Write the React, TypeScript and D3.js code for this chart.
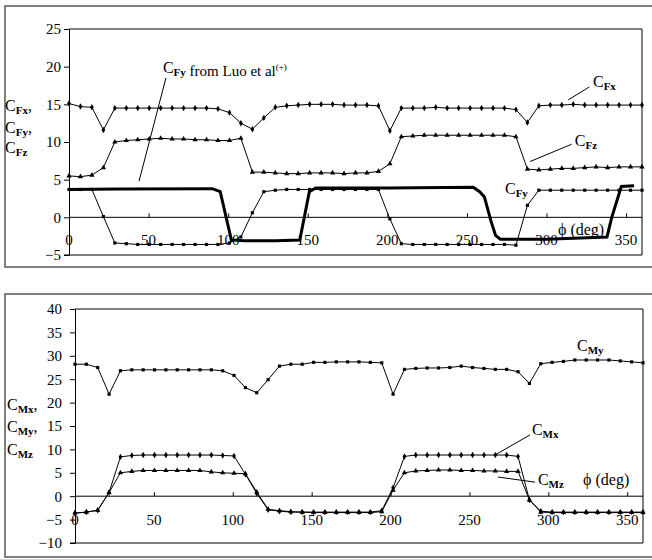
import React, { useEffect, useRef } from "react";
import * as d3 from "d3";

// measured angles (deg), one point every 7.2 deg
const phi = [
  0, 7.2, 14.4, 21.6, 28.8, 36, 43.2, 50.4, 57.6, 64.8, 72, 79.2, 86.4, 93.6, 100.8, 108, 115.2,
  122.4, 129.6, 136.8, 144, 151.2, 158.4, 165.6, 172.8, 180, 187.2, 194.4, 201.6, 208.8, 216,
  223.2, 230.4, 237.6, 244.8, 252, 259.2, 266.4, 273.6, 280.8, 288, 295.2, 302.4, 309.6, 316.8,
  324, 331.2, 338.4, 345.6, 352.8, 360,
];

// force coefficients
const cFx = [
  15.1, 14.7, 14.6, 11.6, 14.5, 14.5, 14.5, 14.5, 14.5, 14.5, 14.5, 14.5, 14.5, 14.4, 13.9, 12.5,
  11.7, 13.2, 14.6, 14.8, 14.9, 15.0, 15.0, 15.0, 14.9, 14.9, 14.9, 14.8, 11.5, 14.5, 14.5, 14.5,
  14.6, 14.5, 14.5, 14.5, 14.5, 14.5, 14.5, 14.3, 12.6, 14.8, 14.9, 14.9, 15.0, 14.9, 14.9, 14.9,
  14.9, 14.9, 14.9,
];
const cFz = [
  5.5, 5.4, 5.6, 6.6, 10.0, 10.2, 10.3, 10.4, 10.5, 10.4, 10.4, 10.3, 10.3, 10.2, 10.2, 10.5, 6.0,
  6.0, 5.9, 5.8, 5.8, 5.9, 5.9, 5.9, 5.8, 5.9, 5.9, 6.1, 7.1, 10.7, 10.8, 10.9, 10.9, 10.9, 10.9,
  10.9, 10.9, 10.9, 10.9, 10.7, 6.4, 6.3, 6.4, 6.5, 6.5, 6.6, 6.7, 6.6, 6.7, 6.7, 6.7,
];
const cFy = [
  3.7, 3.7, 3.7, 0.1, -3.4, -3.5, -3.6, -3.6, -3.6, -3.6, -3.6, -3.6, -3.6, -3.6, -3.4, -2.6, 0.6,
  3.4, 3.6, 3.7, 3.7, 3.7, 3.7, 3.7, 3.7, 3.7, 3.7, 3.7, -0.2, -3.5, -3.6, -3.6, -3.6, -3.6, -3.6,
  -3.6, -3.6, -3.6, -3.6, -3.7, 1.6, 3.6, 3.6, 3.6, 3.6, 3.6, 3.6, 3.6, 3.6, 3.6, 3.6,
];

// C_Fy from Luo et al (thick line, no markers)
const luoPhi = [0, 30, 90, 95, 102, 110, 130, 145, 151, 155, 200, 254, 258, 261, 265, 268, 271, 300, 338, 341, 347, 355];
const luoFy = [3.7, 3.75, 3.8, 3.4, -3.0, -3.1, -3.1, -3.0, 3.4, 3.9, 3.9, 4.0, 3.4, 2.7, -0.4, -2.4, -2.9, -2.9, -2.6, 0.0, 4.1, 4.2];

// moment coefficients
const cMy = [
  28.2, 28.2, 27.5, 21.8, 26.8, 27.0, 27.0, 27.0, 27.0, 27.0, 27.0, 27.0, 27.0, 26.8, 25.8, 23.2,
  22.1, 24.9, 27.8, 28.2, 28.2, 28.6, 28.6, 28.7, 28.7, 28.7, 28.6, 28.5, 21.8, 27.1, 27.3, 27.4,
  27.4, 27.5, 27.8, 27.5, 27.3, 27.1, 27.1, 26.6, 24.1, 28.3, 28.6, 28.8, 29.1, 29.1, 29.1, 29.1,
  28.9, 28.7, 28.5,
];
const cMx = [
  -3.6, -3.4, -3.0, 0.8, 8.4, 8.7, 8.8, 8.8, 8.8, 8.8, 8.8, 8.8, 8.8, 8.7, 8.6, 4.7, 0.6, -2.9,
  -3.2, -3.4, -3.4, -3.4, -3.4, -3.4, -3.4, -3.4, -3.4, -3.1, 1.8, 8.5, 8.8, 8.8, 8.8, 8.8, 8.8,
  8.8, 8.8, 8.8, 8.8, 8.5, -0.8, -3.2, -3.4, -3.4, -3.4, -3.4, -3.4, -3.4, -3.4, -3.4, -3.4,
];
const cMz = [
  -3.6, -3.4, -3.0, 0.8, 5.0, 5.3, 5.5, 5.5, 5.5, 5.5, 5.5, 5.5, 5.2, 5.0, 4.9, 4.8, 0.9, -2.8,
  -3.1, -3.3, -3.4, -3.5, -3.5, -3.5, -3.5, -3.5, -3.5, -3.3, 1.3, 5.0, 5.4, 5.5, 5.6, 5.6, 5.5,
  5.5, 5.4, 5.4, 5.3, 5.3, -0.8, -3.4, -3.5, -3.5, -3.5, -3.5, -3.5, -3.5, -3.5, -3.5, -3.5,
];

const xTicks = [0, 50, 100, 150, 200, 250, 300, 350];
const forceTicks = [-5, 0, 5, 10, 15, 20, 25];
const momentTicks = [-10, -5, 0, 5, 10, 15, 20, 25, 30, 35, 40];

const FONT = "Liberation Serif, DejaVu Serif, serif";

// "C" + subscript (+ tail / superscript) as one text element
function coefText(g: any, x: number, y: number, sub: string, tail = "", sup = "", more = "") {
  const t = g.append("text").attr("x", x).attr("y", y)
    .attr("font-family", FONT).attr("font-size", 16).attr("fill", "#000");
  t.append("tspan").text("C");
  t.append("tspan").attr("dy", 3).attr("font-size", 11).attr("font-weight", "bold").text(sub);
  t.append("tspan").attr("dy", -3).text(tail);
  if (more) t.append("tspan").attr("font-size", 15).text(more);
  if (sup) t.append("tspan").attr("dy", -6).attr("font-size", 9).text(sup);
  return t;
}

function drawPanel(svg: any, p: any) {
  const g = svg.append("g");
  // outer frame
  g.append("rect")
    .attr("x", 5).attr("y", p.frameTop)
    .attr("width", 700).attr("height", p.frameBottom - p.frameTop)
    .attr("fill", "none").attr("stroke", "#555").attr("stroke-width", 1.5);

  const x = d3.scaleLinear().domain([0, 360]).range([p.left, p.right]);
  const y = d3.scaleLinear().domain(p.yDomain).range([p.bottom, p.top]);

  // plot area border (top, right, bottom)
  g.append("path")
    .attr("d", `M${p.left},${y(p.yDomain[1])}H${x(360)}V${y(p.yDomain[0])}H${p.left - 5}`)
    .attr("fill", "none").attr("stroke", "#000").attr("stroke-width", 1);

  // y axis
  const ya = g.append("g").attr("transform", `translate(${p.left},0)`)
    .call(d3.axisLeft(y).tickValues(p.yTicks).tickSize(5).tickSizeOuter(0).tickPadding(p.yPad));
  ya.attr("font-family", FONT).attr("font-size", 15);
  ya.select(".domain").attr("stroke", "#000");
  ya.selectAll("text").attr("fill", "#000");

  // x axis sits on the zero line, ticks point up
  const xa = g.append("g").attr("transform", `translate(0,${y(0)})`)
    .call(d3.axisTop(x).tickValues(xTicks).tickSize(4).tickSizeOuter(0).tickFormat(() => ""));
  xa.select(".domain").attr("d", `M${p.left},0H${x(360)}`).attr("stroke", "#000");

  g.selectAll(".xlab").data(xTicks).join("text")
    .attr("x", (d: number) => x(d)).attr("y", p.xLabelY)
    .attr("text-anchor", "middle")
    .attr("font-family", FONT).attr("font-size", 15)
    .text((d: number) => d);

  // series
  const line = d3.line<[number, number]>().x((d) => x(d[0])).y((d) => y(d[1]));
  p.series.forEach((s: any) => {
    const pts: [number, number][] = s.xs.map((v: number, i: number) => [v, s.ys[i]]);
    g.append("path").attr("d", line(pts)).attr("fill", "none")
      .attr("stroke", "#000").attr("stroke-width", s.width || 1);
    if (s.shape) {
      g.selectAll(null).data(pts).join("path")
        .attr("transform", (d: [number, number]) => `translate(${x(d[0])},${y(d[1])})`)
        .attr("d", d3.symbol().type(s.shape).size(s.size || 12)())
        .attr("fill", "#000");
    }
  });

  // leader lines
  p.leaders.forEach((l: number[]) => {
    g.append("line").attr("x1", x(l[0])).attr("y1", y(l[1])).attr("x2", x(l[2])).attr("y2", y(l[3]))
      .attr("stroke", "#000").attr("stroke-width", 1);
  });

  // in-plot labels
  p.labels.forEach((l: any) => {
    if (l.plain) {
      g.append("text").attr("x", x(l.phi)).attr("y", y(l.v))
        .attr("font-family", FONT).attr("font-size", 16).text(l.plain);
    } else {
      coefText(g, x(l.phi), y(l.v), l.sub, l.tail || "", l.sup || "", l.more || "");
    }
  });

  // axis title on the left
  p.titles.forEach((t: any) => coefText(g, t.x, t.y, t.sub, t.tail));
}

export default function App() {
  const ref = useRef<SVGSVGElement>(null);

  useEffect(() => {
    const svg = d3.select(ref.current);
    svg.selectAll("*").remove();

    drawPanel(svg, {
      frameTop: 6, frameBottom: 267,
      left: 69, right: 642, top: 29, bottom: 255,
      yDomain: [-5, 25], yTicks: forceTicks, yPad: 3, xLabelY: 245,
      series: [
        { xs: phi, ys: cFx, shape: d3.symbolDiamond, size: 12 },
        { xs: phi, ys: cFz, shape: d3.symbolTriangle, size: 12 },
        { xs: phi, ys: cFy, shape: d3.symbolSquare, size: 10 },
        { xs: luoPhi, ys: luoFy, width: 3 },
      ],
      leaders: [
        [60.9, 18.5, 44, 4.8],
        [313.7, 15.6, 326.9, 17.3],
        [289.6, 7.4, 315.8, 9.7],
      ],
      labels: [
        { phi: 59, v: 19.2, sub: "Fy", tail: "", more: " from Luo et al", sup: "(+)" },
        { phi: 329.2, v: 17.3, sub: "Fx" },
        { phi: 317.8, v: 9.5, sub: "Fz" },
        { phi: 273.9, v: 3.1, sub: "Fy" },
        { phi: 307.2, v: -2.35, plain: "\u03d5 (deg)" },
      ],
      titles: [
        { x: 5, y: 111, sub: "Fx", tail: "," },
        { x: 5, y: 133, sub: "Fy", tail: "," },
        { x: 5, y: 153, sub: "Fz", tail: "" },
      ],
    });

    drawPanel(svg, {
      frameTop: 294, frameBottom: 557,
      left: 75, right: 643, top: 309, bottom: 543,
      yDomain: [-10, 40], yTicks: momentTicks, yPad: 8, xLabelY: 525,
      series: [
        { xs: phi, ys: cMy, shape: d3.symbolSquare, size: 10 },
        { xs: phi, ys: cMx, shape: d3.symbolDiamond, size: 12 },
        { xs: phi, ys: cMz, shape: d3.symbolTriangle, size: 12 },
      ],
      leaders: [
        [266.2, 8.8, 288.4, 13.1],
        [268.1, 4.1, 291.6, 3.0],
      ],
      labels: [
        { phi: 318.2, v: 31.0, sub: "My" },
        { phi: 289.6, v: 13.1, sub: "Mx" },
        { phi: 293.4, v: 2.4, sub: "Mz" },
        { phi: 322, v: 2.4, plain: "\u03d5 (deg)" },
      ],
      titles: [
        { x: 7, y: 410, sub: "Mx", tail: ", " },
        { x: 7, y: 432, sub: "My", tail: ", " },
        { x: 7, y: 455, sub: "Mz", tail: "" },
      ],
    });
  }, []);

  return (
    <svg ref={ref} width={652} height={559}
      style={{ position: "absolute", left: 0, top: 0, background: "#fff" }} />
  );
}
